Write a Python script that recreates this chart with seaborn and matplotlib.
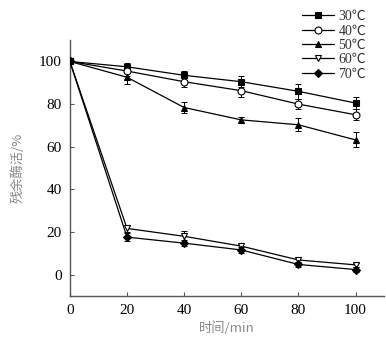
import matplotlib
matplotlib.use("Agg")
import matplotlib.pyplot as plt
import numpy as np
import pandas as pd
import seaborn as sns

time = [0, 20, 40, 60, 80, 100]
labels = ["30℃", "40℃", "50℃", "60℃", "70℃"]
values = {
    "30℃": [100, 97.5, 93.5, 90.5, 86, 80.5],
    "40℃": [100, 95.5, 90.5, 86.3, 80, 75],
    "50℃": [100, 92.6, 78.4, 72.6, 70.3, 63.2],
    "60℃": [100, 21.7, 18, 13.4, 6.9, 4.6],
    "70℃": [100, 17.6, 14.8, 11.6, 4.8, 2.4],
}
errors = {
    "30℃": [1, 2, 2, 2.5, 3.5, 3],
    "40℃": [1, 2.5, 2.5, 3, 2.5, 2.5],
    "50℃": [1, 3, 2.5, 1.5, 3, 3.5],
    "60℃": [1, 1.5, 2.5, 1.5, 1.5, 1],
    "70℃": [1, 2, 1.5, 1.5, 1, 1],
}
markers = {"30℃": "s", "40℃": "o", "50℃": "^", "60℃": "v", "70℃": "D"}
faces = {"30℃": "black", "40℃": "white", "50℃": "black", "60℃": "white", "70℃": "black"}

sns.set_style("ticks")
plt.rcParams["font.family"] = ["Liberation Serif", "Noto Sans CJK SC"]

fig = plt.figure(figsize=(3.86, 3.43), dpi=100)
ax = fig.add_axes([0.181, 0.137, 0.814, 0.746])

for lab in labels:
    df = pd.DataFrame({"time": time, "value": values[lab]})
    ax.errorbar(time, values[lab], yerr=errors[lab], fmt="none", ecolor="black",
                elinewidth=0.7, capsize=2.5, capthick=0.7, zorder=2)
    sns.lineplot(data=df, x="time", y="value", ax=ax, color="black", lw=0.9,
                 marker=markers[lab], markersize=5 if markers[lab] != "D" else 4,
                 markerfacecolor=faces[lab], markeredgecolor="black",
                 markeredgewidth=0.8, label=lab, zorder=3)

ax.set_xlim(0, 110)
ax.set_ylim(-10, 110)
ax.set_xticks([0, 20, 40, 60, 80, 100])
ax.set_yticks([0, 20, 40, 60, 80, 100])
ax.tick_params(direction="in", length=3, width=0.8, color="#555555",
               labelsize=11, labelcolor="black", pad=6)
for s in ["top", "right"]:
    ax.spines[s].set_visible(False)
for s in ["left", "bottom"]:
    ax.spines[s].set_color("#555555")
    ax.spines[s].set_linewidth(1.0)

ax.set_xlabel("时间/min", color="#888888", fontsize=9.5,
              family=["Noto Sans CJK SC", "Liberation Serif"], labelpad=3)
ax.set_ylabel("残余酶活/%", color="#888888", fontsize=9.5,
              family=["Noto Sans CJK SC", "Liberation Serif"], labelpad=10)

ax.get_legend().remove()
handles, lbls = ax.get_legend_handles_labels()
fig.legend(handles, lbls, loc="upper right", bbox_to_anchor=(0.97, 0.995),
           frameon=False, fontsize=10, handlelength=2.3, handletextpad=0.3,
           labelspacing=0.1, borderaxespad=0.2, labelcolor="#333333")

fig.savefig("out.png", dpi=100)
